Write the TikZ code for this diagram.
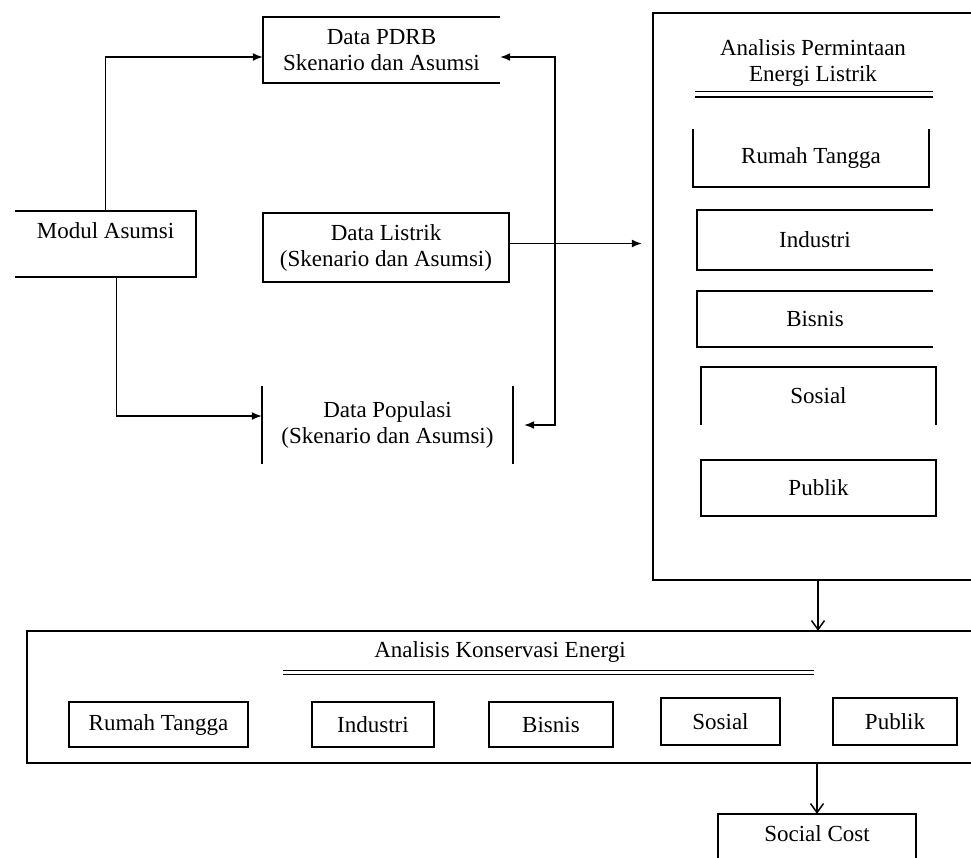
\documentclass[tikz,border=0pt]{standalone}
\usepackage{fontspec}
\setmainfont{Liberation Serif}
\usetikzlibrary{arrows.meta}

\begin{document}
\begin{tikzpicture}[x=1pt,y=-1pt,
            box/.style={rectangle, draw=none, inner sep=0pt, align=center, font=\fontsize{23}{26}\selectfont},
            lbl/.style={inner sep=0pt, align=center, font=\fontsize{23}{26}\selectfont},
            edge/.style={line width=1.7pt},
            arr/.style={line width=1.5pt, -{Latex[length=10pt,width=8pt]}},
            dblarr/.style={line width=1.5pt, {Latex[length=10pt,width=8pt]}-{Latex[length=10pt,width=8pt]}},
            openarr/.style={line width=1.5pt, -{Straight Barb[length=9pt,width=13pt]}},
            rule/.style={line width=1.5pt, double, double distance=4pt},
            ]
            \useasboundingbox (0,0) rectangle (971,857);
            \clip (0,0) rectangle (971,857);

            \node[box, minimum width=237pt, minimum height=66pt] (pdrb) at (381.5,50) {Data PDRB\\Skenario dan Asumsi};
            \node[box, minimum width=181pt, minimum height=66pt] (modul) at (105.5,244) {Modul Asumsi\\ \mbox{}};
            \node[box, minimum width=246pt, minimum height=69pt] (listrik) at (386,247.5) {Data Listrik\\(Skenario dan Asumsi)};
            \node[box, minimum width=251pt, minimum height=77pt] (pop) at (387.5,425) {Data Populasi\\(Skenario dan Asumsi)};

            \node[box, minimum width=360pt, minimum height=567pt] (big) at (833,296.5) {};
            \node[lbl] (ptitle) at (813,63) {Analisis Permintaan\\Energi Listrik};
            \node[box, minimum width=236pt, minimum height=57pt] (rt1) at (811,158) {Rumah Tangga};
            \node[box, minimum width=236pt, minimum height=59pt] (ind1) at (815,240) {Industri};
            \node[box, minimum width=236pt, minimum height=56pt] (bis1) at (815,319) {Bisnis};
            \node[box, minimum width=235pt, minimum height=57pt] (sos1) at (818.5,396) {Sosial};
            \node[box, minimum width=235pt, minimum height=56pt] (pub1) at (818.5,488) {Publik};

            \node[box, minimum width=990pt, minimum height=132pt] (kons) at (522,697) {};
            \node[lbl] (ktitle) at (500,652) {Analisis Konservasi Energi};
            \node[box, minimum width=179pt, minimum height=45pt] (rt2) at (158.5,724.5) {Rumah Tangga};
            \node[box, minimum width=122pt, minimum height=45pt] (ind2) at (373,724.5) {Industri};
            \node[box, minimum width=124pt, minimum height=45pt] (bis2) at (551,724.5) {Bisnis};
            \node[box, minimum width=119pt, minimum height=47pt] (sos2) at (720.5,721.5) {Sosial};
            \node[box, minimum width=124pt, minimum height=47pt] (pub2) at (895,721.5) {Publik};
            \node[box, minimum width=198pt, minimum height=66pt] (cost) at (817,847) {Social Cost\\ \mbox{}};

            \draw[edge] (pdrb.north east) -- (pdrb.north west) -- (pdrb.south west) -- (pdrb.south east);
            \draw[edge] (modul.north west) -- (modul.north east) -- (modul.south east) -- (modul.south west);
            \draw[edge] (listrik.north west) rectangle (listrik.south east);
            \draw[edge] (pop.north west) -- (pop.south west);
            \draw[edge] (pop.north east) -- (pop.south east);
            \draw[edge] (big.north west) rectangle (big.south east);
            \draw[edge] (rt1.north west) -- (rt1.south west) -- (rt1.south east) -- (rt1.north east);
            \draw[edge] (ind1.north east) -- (ind1.north west) -- (ind1.south west) -- (ind1.south east);
            \draw[edge] (bis1.north east) -- (bis1.north west) -- (bis1.south west) -- (bis1.south east);
            \draw[edge] (sos1.south west) -- (sos1.north west) -- (sos1.north east) -- (sos1.south east);
            \draw[edge] (pub1.north west) rectangle (pub1.south east);
            \draw[edge] (kons.north west) rectangle (kons.south east);
            \draw[edge] (rt2.north west) rectangle (rt2.south east);
            \draw[edge] (ind2.north west) rectangle (ind2.south east);
            \draw[edge] (bis2.north west) rectangle (bis2.south east);
            \draw[edge] (sos2.north west) rectangle (sos2.south east);
            \draw[edge] (pub2.north west) rectangle (pub2.south east);
            \draw[edge] (cost.north west) rectangle (cost.south east);

            \draw[rule] (695,94) -- (933,94);
            \draw[rule, double distance=2.5pt] (283,672.5) -- (814,672.5);

            \coordinate (back) at (555,57);
            \coordinate (drop) at (818,0);
            \draw[arr] (modul.north) |- ([yshift=-7pt]pdrb.west);
            \draw[arr] ([xshift=11pt]modul.south) |- ([yshift=9pt]pop.west);
            \draw[arr, shorten >=11pt] ([yshift=4pt]listrik.east) -- ([yshift=4pt]listrik.east -| big.west);
            \draw[dblarr, shorten <=11pt] (pop.east) -| (back) -- ([yshift=-7pt]pdrb.east);
            \draw[openarr] (big.south -| drop) -- (kons.north -| drop);
            \draw[openarr] (kons.south -| cost.north) -- (cost.north);
        \end{tikzpicture}
\end{document}
